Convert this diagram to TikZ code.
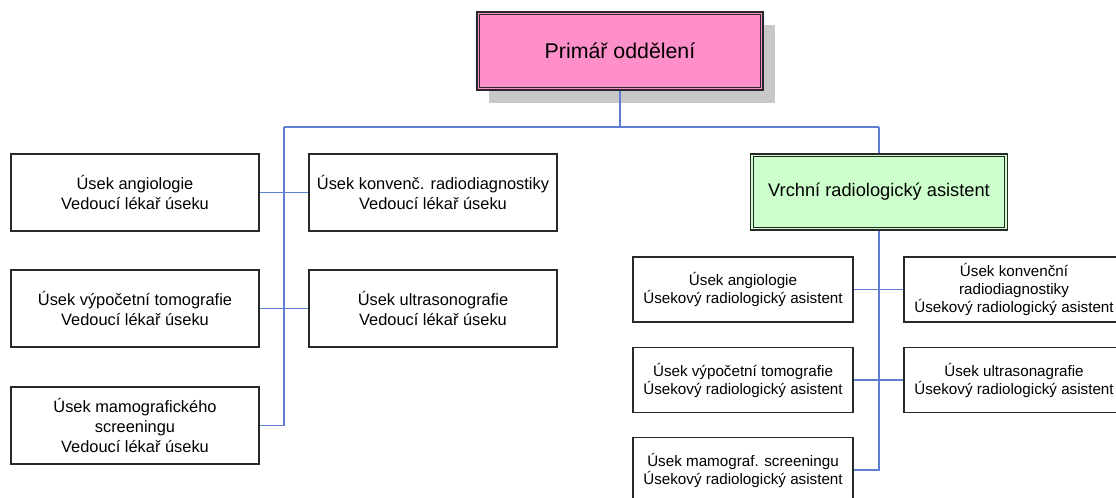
\documentclass[tikz,border=0pt]{standalone}
\usepackage{fontspec}
\setmainfont{Liberation Sans}
\definecolor{pinkfill}{RGB}{255,143,200}
\definecolor{greenfill}{RGB}{204,255,204}
\definecolor{shadowgray}{RGB}{200,200,200}
\definecolor{connblue}{RGB}{95,125,210}
\definecolor{boxline}{RGB}{40,40,40}
\begin{document}
\begin{tikzpicture}[x=0.75pt,y=-0.75pt,
  basebox/.style={draw=boxline, line width=0.9pt, fill=white, align=center, inner sep=0pt},
  lbox/.style={basebox, minimum width=186pt, minimum height=57.75pt, font=\fontsize{12.3}{15}\selectfont},
  rbox/.style={basebox, minimum width=165pt, minimum height=48.75pt, font=\fontsize{11.4}{13.5}\selectfont},
  headbox/.style={draw=boxline, line width=0.9pt, align=center, inner sep=0pt},
  innerline/.style={draw=boxline, line width=0.7pt},
  conn/.style={draw=connblue, line width=0.9pt}]
\useasboundingbox (0,0) rectangle (1116,497);
\clip (0,0) rectangle (1116,497);
% shadow of the top box
\fill[shadowgray] (489,25) rectangle (775,103);
\node[headbox, fill=pinkfill, minimum width=214.5pt, minimum height=58.5pt,
      font=\fontsize{16}{19}\selectfont] (P) at (620,51) {Primář oddělení};
\draw[innerline] ([xshift=2.6pt,yshift=-2.6pt]P.north west) rectangle ([xshift=-2.6pt,yshift=2.6pt]P.south east);
\node[headbox, fill=greenfill, minimum width=192.75pt, minimum height=57pt,
      font=\fontsize{13.7}{16}\selectfont] (G) at (879,192) {Vrchní radiologický asistent};
\draw[innerline] ([xshift=2.6pt,yshift=-2.6pt]G.north west) rectangle ([xshift=-2.6pt,yshift=2.6pt]G.south east);
% left column
\node[lbox] (L1) at (135,192.5) {Úsek angiologie\\Vedoucí lékař úseku};
\node[lbox] (L2) at (433,192.5) {Úsek konvenč. radiodiagnostiky\\Vedoucí lékař úseku};
\node[lbox] (L3) at (135,308.5) {Úsek výpočetní tomografie\\Vedoucí lékař úseku};
\node[lbox] (L4) at (433,308.5) {Úsek ultrasonografie\\Vedoucí lékař úseku};
\node[lbox] (L5) at (135,425.5) {Úsek mamografického\\screeningu\\Vedoucí lékař úseku};
% right column
\node[rbox] (R1) at (743,289.5) {Úsek angiologie\\Úsekový radiologický asistent};
\node[rbox] (R2) at (1014,289.5) {Úsek konvenční\\radiodiagnostiky\\Úsekový radiologický asistent};
\node[rbox] (R3) at (743,380) {Úsek výpočetní tomografie\\Úsekový radiologický asistent};
\node[rbox] (R4) at (1014,380) {Úsek ultrasonagrafie\\Úsekový radiologický asistent};
\node[rbox] (R5) at (743,470) {Úsek mamograf. screeningu\\Úsekový radiologický asistent};
% connectors
\coordinate (J1) at (284,127);
\coordinate (J2) at (879,127);
\draw[conn] (P.south) -- (P.south |- J1);
\draw[conn] (J1) -- (J2);
\draw[conn] (J2) -- (G.north);
\draw[conn] (J1) |- (L5.east);
\draw[conn] (L1.east) -- (L2.west);
\draw[conn] (L3.east) -- (L4.west);
\draw[conn] (G.south) |- (R5.east);
\draw[conn] (R1.east) -- (R2.west);
\draw[conn] (R3.east) -- (R4.west);
\end{tikzpicture}
\end{document}
